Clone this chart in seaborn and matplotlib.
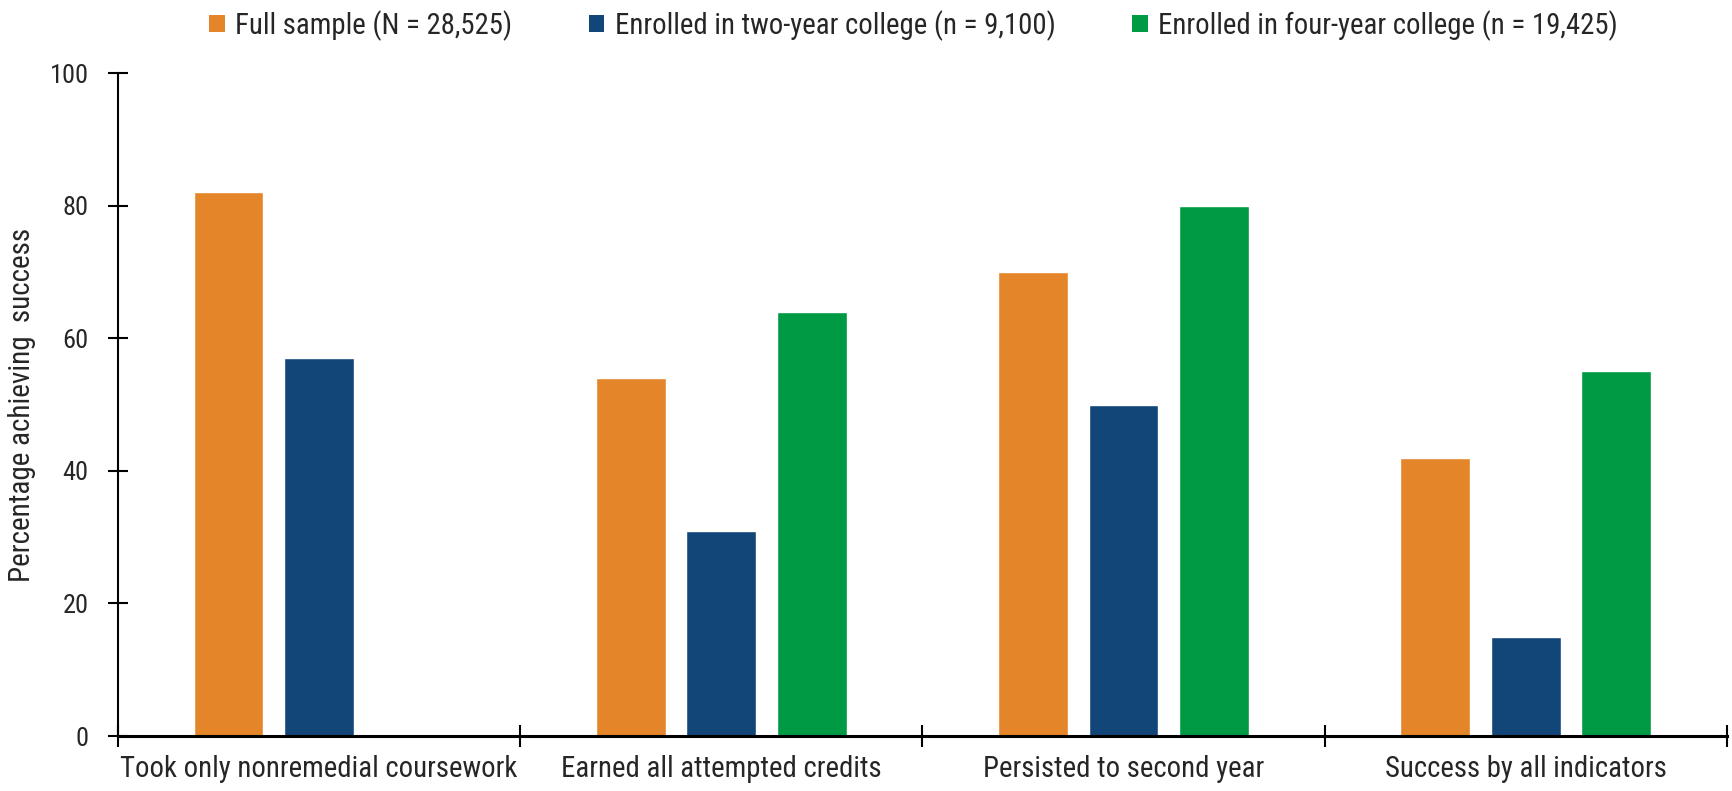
import matplotlib
matplotlib.use("Agg")
import matplotlib.pyplot as plt
import matplotlib.font_manager as fm
import seaborn as sns
import pandas as pd
import numpy as np
from matplotlib.patches import Patch
from matplotlib.ticker import FixedLocator, NullFormatter

# Outcome categories and success rates (%) by sample group
categories = [
    "Took only nonremedial coursework",
    "Earned all attempted credits",
    "Persisted to second year",
    "Success by all indicators",
]
groups = [
    "Full sample (N = 28,525)",
    "Enrolled in two-year college (n = 9,100)",
    "Enrolled in four-year college (n = 19,425)",
]
full_sample = [82, 54, 70, 42]
two_year = [57, 31, 50, 15]
four_year = [np.nan, 64, 80, 55]
colors = ["#E58529", "#124679", "#009A44"]
yticks = [0, 20, 40, 60, 80, 100]

rows = []
for g, vals in zip(groups, [full_sample, two_year, four_year]):
    for c, v in zip(categories, vals):
        rows.append({"category": c, "group": g, "value": v})
df = pd.DataFrame(rows)

sns.set_style("white")

# prefer a narrow sans face when one is available
available = {f.name for f in fm.fontManager.ttflist}
narrow = next((n for n in ["Liberation Sans Narrow", "Arial Narrow",
                           "Roboto Condensed", "Open Sans Condensed",
                           "DejaVu Sans Condensed"] if n in available), None)
if narrow:
    plt.rcParams["font.family"] = [narrow, "Liberation Sans", "DejaVu Sans"]
    fs = 20.7
    scale = 1.0
else:
    plt.rcParams["font.family"] = ["Liberation Sans", "DejaVu Sans"]
    fs = 18.3
    scale = 18.3 / 20.7

fig = plt.figure(figsize=(17.33, 7.91), dpi=100)
ax = fig.add_axes([0.068, 0.0695, 0.9285, 0.838])

sns.barplot(
    data=df, x="category", y="value", hue="group",
    order=categories, hue_order=groups, palette=colors,
    width=0.675, gap=0.23, saturation=1, ax=ax, legend=False,
    err_kws={"linewidth": 0},
)

ax.set_xlim(-0.5, 3.5)
ax.set_ylim(0, 100)
ax.set_yticks(yticks)
ax.tick_params(axis="y", left=True, direction="inout", length=14, width=1.5,
               labelsize=19 * scale, pad=14, color="black")

# category boundaries carry the tick marks; labels sit between them
ax.xaxis.set_major_locator(FixedLocator([-0.5, 0.5, 1.5, 2.5, 3.5]))
ax.xaxis.set_major_formatter(NullFormatter())
ax.xaxis.set_minor_locator(FixedLocator([0, 1, 2, 3]))
ax.set_xticklabels(categories, minor=True)
ax.tick_params(axis="x", which="major", bottom=True, direction="inout",
               length=16, width=1.5, color="black")
ax.tick_params(axis="x", which="minor", bottom=True, length=0,
               labelsize=fs, pad=14)

ax.set_xlabel("")
ax.set_ylabel("Percentage achieving  success", fontsize=21 * scale, labelpad=10)

for side in ["top", "right"]:
    ax.spines[side].set_visible(False)
ax.spines["left"].set_linewidth(1.5)
ax.spines["bottom"].set_linewidth(2.2)
for s in ["left", "bottom"]:
    ax.spines[s].set_color("black")

handles = [Patch(facecolor=c, edgecolor="none") for c in colors]
fig.legend(
    handles, groups, loc="center", bbox_to_anchor=(0.527, 0.968),
    ncol=3, frameon=False, fontsize=fs, handlelength=11.5 / fs,
    handleheight=11.5 / fs, handletextpad=0.35, columnspacing=55 / fs,
    borderpad=0, borderaxespad=0,
)

fig.savefig("out.png", dpi=100, facecolor="white")
